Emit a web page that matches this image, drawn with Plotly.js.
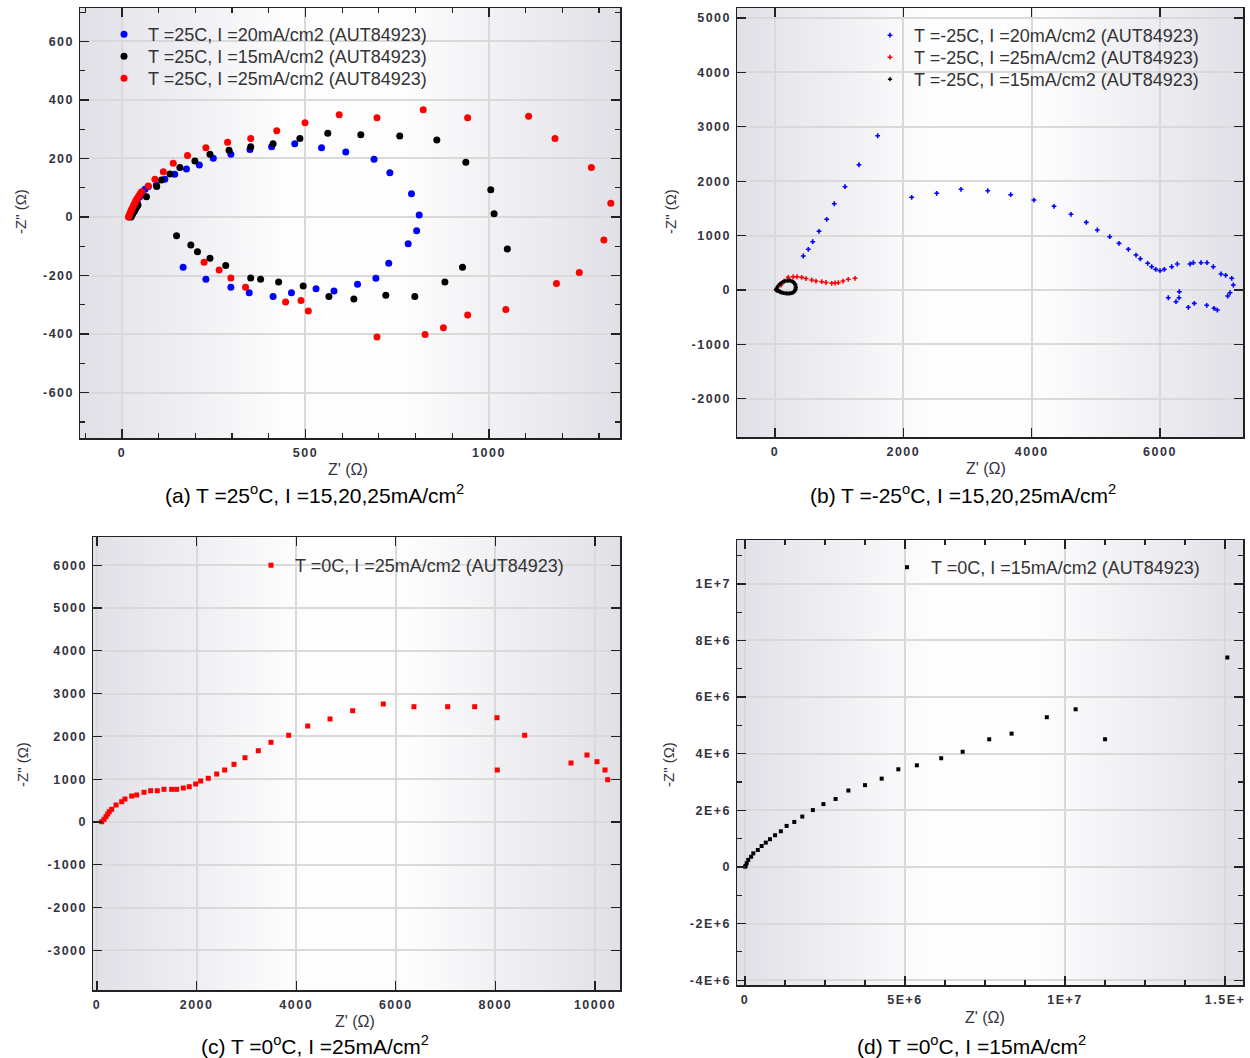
<!DOCTYPE html>
<html>
<head>
<meta charset="utf-8">
<script src="https://cdn.plot.ly/plotly-3.0.1.min.js"></script>
<style>
  body { margin: 0; background: #ffffff; }
  #chart { width: 1250px; height: 1058px; }
  .xaxislayer-above text, .yaxislayer-above text { letter-spacing: 1.5px; }
</style>
</head>
<body>
<div id="chart"></div>
<script>
// ---------------- Panel (a): T = 25 C ----------------
const a20x = [20,22,25,28,32,37,42,48,55,63,72,94,117,144,176,211,249,297,349,408,471,544,610,687,730,789,810,803,780,727,692,642,578,529,462,412,347,297,229,167];
const a20y = [0,5,12,20,30,42,55,68,82,95,104,109,129,146,164,178,201,214,231,240,250,237,222,197,151,79,7,-47,-91,-158,-209,-230,-253,-245,-259,-272,-259,-240,-213,-172];
const a15x = [25,27,29,31,34,37,40,44,67,95,108,131,158,199,240,292,351,412,485,561,651,757,858,937,1005,1014,1050,928,880,798,719,632,564,494,427,378,351,283,240,206,188,149];
const a15y = [0,5,10,15,20,27,33,41,69,104,126,147,169,191,214,228,240,250,268,286,281,277,263,187,93,11,-109,-172,-222,-272,-267,-280,-272,-236,-222,-213,-208,-166,-141,-119,-96,-64];
const a25x = [18,20,22,24,26,29,32,35,38,42,46,50,54,72,90,113,140,179,229,288,351,422,499,592,695,821,942,1108,1180,1279,1332,1313,1246,1184,1046,942,876,826,695,508,488,446,337,297,265,224];
const a25y = [0,6,12,18,25,32,40,48,56,64,72,79,86,106,129,155,184,210,237,255,268,295,322,349,339,366,339,344,268,169,47,-79,-190,-227,-316,-335,-378,-401,-410,-321,-285,-290,-240,-208,-181,-155];

// ---------------- Panel (b): T = -25 C ----------------
const b20x = [441,519,588,686,806,924,1091,1309,1600,2130,2520,2899,3315,3673,4036,4348,4613,4851,5023,5216,5361,5506,5626,5693,5808,5870,5933,6000,6067,6182,6269,6467,6519,6639,6732,6830,6950,7023,7117,7142,7091,7055,6893,6841,6728,6534,6441,6301,6296,6249,6129];
const b20y = [625,748,888,1079,1300,1586,1899,2303,2836,1704,1778,1851,1825,1752,1654,1539,1392,1244,1103,980,858,748,643,575,491,428,380,355,380,428,478,478,502,502,502,428,294,270,215,92,-50,-110,-368,-336,-281,-245,-318,-31,-142,-215,-142];
const b25x = [51,94,140,207,285,343,416,483,572,639,728,795,884,935,986,1060,1142,1247];
const b25y = [0,92,165,233,244,244,233,211,184,165,153,138,123,129,134,165,197,215];
const b15x = [15,25,40,55,75,95,120,145,170,195,220,245,268,288,303,315,322,324,320,312,300,285,265,245,222,200,178,155,132,110,90,72,58,45,35,28,22,18];
const b15y = [5,30,58,85,108,128,145,158,168,173,174,170,160,145,125,100,72,42,15,-10,-30,-45,-55,-60,-63,-64,-63,-60,-55,-48,-40,-30,-22,-14,-8,-4,-1,2];

// ---------------- Panel (c): T = 0 C, 25 mA/cm2 ----------------
const c25x = [94,141,181,215,247,295,382,496,562,697,797,944,1078,1211,1345,1500,1600,1733,1853,1982,2082,2235,2404,2564,2751,2972,3239,3494,3849,4231,4679,5134,5749,6365,7042,7584,8032,8588,8038,9518,9839,10040,10201,10255];
const c25y = [7,63,124,187,241,297,397,474,537,607,631,694,731,731,764,764,764,794,825,888,958,1021,1121,1215,1348,1502,1666,1862,2026,2243,2407,2600,2757,2694,2694,2694,2437,2026,1215,1379,1565,1409,1215,988];

// ---------------- Panel (d): T = 0 C, 15 mA/cm2 ----------------
const d15x = [0.005e6,0.02e6,0.053e6,0.10e6,0.19e6,0.26e6,0.40e6,0.52e6,0.65e6,0.78e6,0.94e6,1.12e6,1.30e6,1.54e6,1.79e6,2.12e6,2.45e6,2.83e6,3.23e6,3.75e6,4.27e6,4.79e6,5.37e6,6.13e6,6.80e6,7.63e6,8.33e6,9.43e6,10.33e6,11.25e6,15.07e6];
const d15y = [0.01e6,0.04e6,0.13e6,0.25e6,0.36e6,0.48e6,0.60e6,0.74e6,0.86e6,0.98e6,1.12e6,1.26e6,1.45e6,1.59e6,1.78e6,2.01e6,2.22e6,2.40e6,2.70e6,2.89e6,3.12e6,3.45e6,3.59e6,3.84e6,4.07e6,4.51e6,4.71e6,5.29e6,5.57e6,4.51e6,7.40e6];

// ---------------- Tick labels ----------------
const aXticks = [0,500,1000];            const aXtext = ['0','500','1000'];
const aYticks = [-600,-400,-200,0,200,400,600]; const aYtext = ['-600','-400','-200','0','200','400','600'];
const bXticks = [0,2000,4000,6000];      const bXtext = ['0','2000','4000','6000'];
const bYticks = [-2000,-1000,0,1000,2000,3000,4000,5000]; const bYtext = ['-2000','-1000','0','1000','2000','3000','4000','5000'];
const cXticks = [0,2000,4000,6000,8000,10000]; const cXtext = ['0','2000','4000','6000','8000','10000'];
const cYticks = [-3000,-2000,-1000,0,1000,2000,3000,4000,5000,6000]; const cYtext = ['-3000','-2000','-1000','0','1000','2000','3000','4000','5000','6000'];
const dXticks = [0,5e6,1e7,1.5e7];       const dXtext = ['0','5E+6','1E+7','1.5E+'];
const dYticks = [-4e6,-2e6,0,2e6,4e6,6e6,8e6,1e7]; const dYtext = ['-4E+6','-2E+6','0','2E+6','4E+6','6E+6','8E+6','1E+7'];

const names = {
  a20: 'T =25C, I =20mA/cm2 (AUT84923)',
  a15: 'T =25C, I =15mA/cm2 (AUT84923)',
  a25: 'T =25C, I =25mA/cm2 (AUT84923)',
  b20: 'T =-25C, I =20mA/cm2 (AUT84923)',
  b25: 'T =-25C, I =25mA/cm2 (AUT84923)',
  b15: 'T =-25C, I =15mA/cm2 (AUT84923)',
  c25: 'T =0C, I =25mA/cm2 (AUT84923)',
  d15: 'T =0C, I =15mA/cm2 (AUT84923)'
};
const captions = [
  '(a) T =25<sup>o</sup>C, I =15,20,25mA/cm<sup>2</sup>',
  '(b) T =-25<sup>o</sup>C, I =15,20,25mA/cm<sup>2</sup>',
  '(c) T =0<sup>o</sup>C, I =25mA/cm<sup>2</sup>',
  '(d) T =0<sup>o</sup>C, I =15mA/cm<sup>2</sup>'
];
const xTitle = "Z' (Ω)";
const yTitle = '-Z" (Ω)';

const BLUE = '#0000ff', BLACK = '#000000', RED = '#ff0000';
const W = 1250, H = 1058;
const px = p => p / W;
const py = p => 1 - p / H;
const FONT = 'Liberation Sans, Arial, sans-serif';

function sc(x, y, name, color, symbol, size, xa, ya, legend) {
  return { type: 'scatter', mode: 'markers', x: x, y: y, name: name,
    xaxis: xa, yaxis: ya, legend: legend,
    marker: { color: color, symbol: symbol, size: size, line: { width: 0 } } };
}

const traces = [
  sc(a20x, a20y, names.a20, BLUE, 'circle', 7, 'x', 'y', 'legend'),
  sc(a15x, a15y, names.a15, BLACK, 'circle', 7, 'x', 'y', 'legend2'),
  sc(a25x, a25y, names.a25, RED, 'circle', 7, 'x', 'y', 'legend3'),
  sc(b20x, b20y, names.b20, BLUE, 'cross', 4, 'x2', 'y2', 'legend4'),
  sc(b25x, b25y, names.b25, RED, 'cross', 4, 'x2', 'y2', 'legend5'),
  sc(b15x, b15y, names.b15, BLACK, 'cross', 3.5, 'x2', 'y2', 'legend6'),
  sc(c25x, c25y, names.c25, RED, 'square', 5, 'x3', 'y3', 'legend7'),
  sc(d15x, d15y, names.d15, BLACK, 'square', 4, 'x4', 'y4', 'legend8')
];

function axis(range, domain, anchor, vals, text, minorDtick) {
  const o = {
    range: range, domain: domain, anchor: anchor,
    tickmode: 'array', tickvals: vals, ticktext: text,
    showgrid: true, gridcolor: '#d9d9d9', gridwidth: 2,
    zeroline: false, showline: true, linecolor: '#222222', linewidth: 1.5,
    mirror: 'ticks', ticks: 'inside', ticklen: 9, tickwidth: 1.3, tickcolor: '#222222',
    tickfont: { family: FONT, size: 12.5, color: '#333340', weight: 'bold' },
    ticklabelstandoff: 2,
    fixedrange: true
  };
  if (minorDtick) {
    o.minor = { tickmode: 'linear', tick0: 0, dtick: minorDtick, ticks: 'inside', ticklen: 5, tickwidth: 1.2, tickcolor: '#222222', showgrid: false };
  }
  return o;
}

const dom = {
  a: { x: [px(80), px(620)], y: [py(438), py(8)] },
  b: { x: [px(737), px(1243)], y: [py(437), py(8)] },
  c: { x: [px(93), px(620)], y: [py(990), py(537)] },
  d: { x: [px(737), px(1243)], y: [py(985), py(540)] }
};

function grad(id) {
  const svg = '<svg xmlns="http://www.w3.org/2000/svg" width="200" height="200" preserveAspectRatio="none">' +
    '<defs><linearGradient id="g" x1="0" x2="1" y1="0" y2="0">' +
    '<stop offset="0" stop-color="#e0e0e7"/><stop offset="0.38" stop-color="#fdfdfe"/>' +
    '<stop offset="0.6" stop-color="#fdfdfe"/><stop offset="1" stop-color="#e0e0e7"/>' +
    '</linearGradient></defs><rect width="200" height="200" fill="url(#g)"/></svg>';
  return { source: 'data:image/svg+xml;charset=utf-8,' + encodeURIComponent(svg),
    xref: id[0] + ' domain', yref: id[1] + ' domain', x: 0, y: 1, sizex: 1, sizey: 1,
    xanchor: 'left', yanchor: 'top', sizing: 'stretch', layer: 'below' };
}

function legendAt(xp, yp) {
  return { x: px(xp), y: py(yp), xanchor: 'left', yanchor: 'top', bgcolor: 'rgba(0,0,0,0)',
    font: { family: FONT, size: 18, color: '#333333' }, borderwidth: 0, itemwidth: 38,
    itemclick: false };
}

function ann(text, xp, yp, size, color, angle) {
  return { text: text, xref: 'paper', yref: 'paper', x: px(xp), y: py(yp),
    xanchor: 'center', yanchor: 'middle', showarrow: false, textangle: angle || 0,
    font: { family: FONT, size: size, color: color } };
}

const layout = {
  width: W, height: H,
  margin: { l: 0, r: 0, t: 0, b: 0 },
  paper_bgcolor: '#ffffff', plot_bgcolor: 'rgba(0,0,0,0)',
  showlegend: true,
  xaxis: axis([-114, 1357], dom.a.x, 'y', aXticks, aXtext, 100),
  yaxis: axis([-755, 714], dom.a.y, 'x', aYticks, aYtext, 100),
  xaxis2: axis([-592, 7293], dom.b.x, 'y2', bXticks, bXtext, null),
  yaxis2: axis([-2702, 5184], dom.b.y, 'x2', bYticks, bYtext, null),
  xaxis3: axis([-80, 10502], dom.c.x, 'y3', cXticks, cXtext, null),
  yaxis3: axis([-3925, 6659], dom.c.y, 'x3', cYticks, cYtext, null),
  xaxis4: axis([-0.25e6, 15.56e6], dom.d.x, 'y4', dXticks, dXtext, 1.25e6),
  yaxis4: axis([-4.17e6, 11.55e6], dom.d.y, 'x4', dYticks, dYtext, 1e6),
  legend: legendAt(100, 16),
  legend2: legendAt(100, 38),
  legend3: legendAt(100, 60),
  legend4: legendAt(866, 17),
  legend5: legendAt(866, 39),
  legend6: legendAt(866, 61),
  legend7: legendAt(247, 547),
  legend8: legendAt(883, 549),
  images: [grad(['x', 'y']), grad(['x2', 'y2']), grad(['x3', 'y3']), grad(['x4', 'y4'])],
  annotations: [
    ann(xTitle, 348, 469, 16, '#333340'),
    ann(xTitle, 986, 468, 16, '#333340'),
    ann(xTitle, 355, 1021, 16, '#333340'),
    ann(xTitle, 985, 1017, 16, '#333340'),
    ann(yTitle, 20, 212, 15, '#333340', -90),
    ann(yTitle, 670, 212, 15, '#333340', -90),
    ann(yTitle, 22, 765, 15, '#333340', -90),
    ann(yTitle, 668, 765, 15, '#333340', -90),
    ann(captions[0], 314, 494, 21, '#000000'),
    ann(captions[1], 963, 494, 21, '#000000'),
    ann(captions[2], 315, 1045, 21, '#000000'),
    ann(captions[3], 971, 1045, 21, '#000000')
  ]
};

Plotly.newPlot('chart', traces, layout, { displayModeBar: false, staticPlot: true });
</script>
</body>
</html>
